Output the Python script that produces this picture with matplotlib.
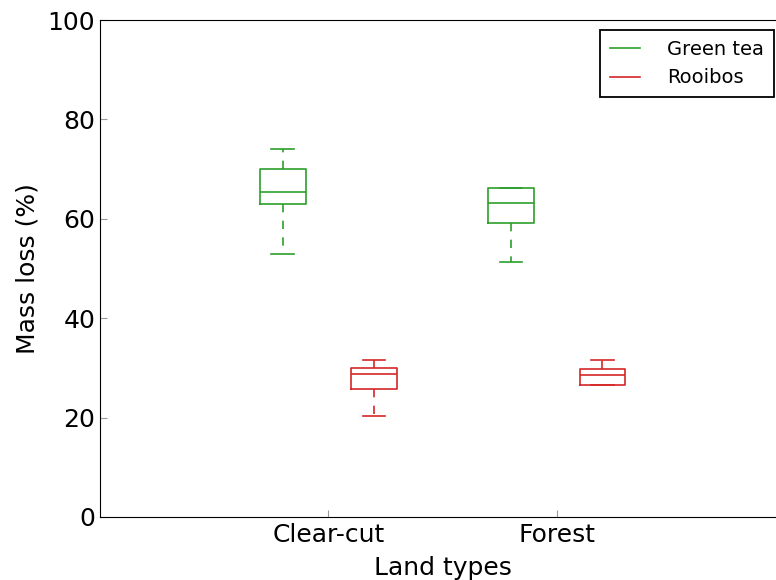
import numpy as np
import matplotlib
matplotlib.use('Agg')
import matplotlib.pyplot as plt
from matplotlib.lines import Line2D

land_types = ['Clear-cut', 'Forest']
series = ['Green tea', 'Rooibos']
colors = ['#2ca02c', '#d62728']

# [whislo, q1, med, q3, whishi] for each land type
green_tea = [[53.0, 63.0, 65.4, 70.0, 74.0],
             [51.3, 59.1, 63.1, 66.1, 66.1]]
rooibos = [[20.4, 25.8, 28.8, 30.0, 31.5],
           [26.6, 26.6, 28.5, 29.8, 31.6]]

fig = plt.figure(figsize=(7.76, 5.8), dpi=100)
ax = fig.add_axes([100/776, 63/580, 685/776, 497/580])

pos = np.arange(1, len(land_types) + 1)
for k, (data, col) in enumerate(zip([green_tea, rooibos], colors)):
    stats = []
    for d in data:
        stats.append(dict(whislo=d[0], q1=d[1], med=d[2], q3=d[3], whishi=d[4], fliers=[]))
    offs = -0.2 if k == 0 else 0.2
    ax.bxp(stats, positions=pos + offs, widths=0.2, showfliers=False,
           boxprops=dict(color=col, lw=1.2),
           medianprops=dict(color=col, lw=1.2),
           whiskerprops=dict(color=col, lw=1.2, ls='--', dashes=(5, 5)),
           capprops=dict(color=col, lw=1.2))

ax.set_xlim(0, 3)
ax.set_ylim(0, 100)
ax.set_xticks(pos)
ax.set_xticklabels(land_types)
ax.set_yticks([0, 20, 40, 60, 80, 100])
ax.tick_params(direction='in', labelsize=18, length=5, width=0.8, color='#999999')
ax.tick_params(axis='x', pad=4)
ax.set_xlabel('Land types', fontsize=18, labelpad=7)
ax.set_ylabel('Mass loss (%)', fontsize=18, labelpad=6)

handles = [Line2D([], [], color=c, lw=1.2) for c in colors]
leg = fig.legend(handles, series, loc='upper right', bbox_to_anchor=(774/776, 1 - 30/580),
                 fontsize=14, fancybox=False, framealpha=1, edgecolor='black',
                 borderaxespad=0, handlelength=1.55, handletextpad=1.4,
                 labelspacing=0.5, borderpad=0.5)
leg.get_frame().set_linewidth(1.3)

plt.savefig('out.png', dpi=100)
